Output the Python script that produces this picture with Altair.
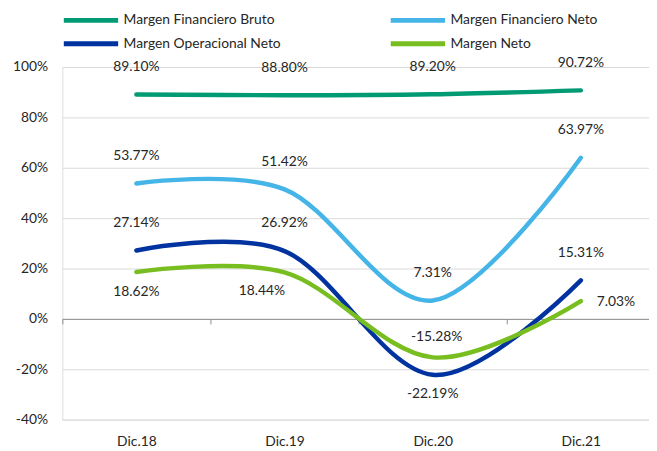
import altair as alt
import pandas as pd

categories = ["Dic.18", "Dic.19", "Dic.20", "Dic.21"]
series_names = [
    "Margen Financiero Bruto",
    "Margen Financiero Neto",
    "Margen Operacional Neto",
    "Margen Neto",
]
margen_fin_bruto = [89.10, 88.80, 89.20, 90.72]
margen_fin_neto = [53.77, 51.42, 7.31, 63.97]
margen_oper_neto = [27.14, 26.92, -22.19, 15.31]
margen_neto = [18.62, 18.44, -15.28, 7.03]

# label placement for each point (style only)
place_fin_bruto = ["above", "above", "above", "above"]
place_fin_neto = ["above", "above", "above", "above"]
place_oper_neto = ["above", "above", "below", "above"]
place_neto = ["below", "below_left", "above_near", "right"]

colors = ["#009B74", "#45B5E8", "#0033A0", "#78BE21"]
# legend fills column by column: col1 = Bruto, Operacional; col2 = Fin. Neto, Neto
legend_order = [series_names[0], series_names[2], series_names[1], series_names[3]]
legend_colors = [colors[0], colors[2], colors[1], colors[3]]

rows = []
for name, vals, places in zip(
    series_names,
    [margen_fin_bruto, margen_fin_neto, margen_oper_neto, margen_neto],
    [place_fin_bruto, place_fin_neto, place_oper_neto, place_neto],
):
    for i, (c, v, p) in enumerate(zip(categories, vals, places)):
        rows.append({"cat": c, "series": name, "value": v, "place": p, "order": i})
df = pd.DataFrame(rows)

W, H = 594, 357
zero_offset = -H * 40 / 140

x_enc = alt.X(
    "cat:N",
    sort=categories,
    title=None,
    scale=alt.Scale(type="band", paddingInner=0, paddingOuter=0, range=[0, 600]),
    axis=alt.Axis(
        orient="bottom",
        offset=zero_offset,
        domain=True,
        domainColor="#8C8C8C",
        domainWidth=1,
        ticks=True,
        tickBand="extent",
        tickSize=5,
        tickColor="#8C8C8C",
        labelPadding=112,
        labelAngle=0,
        labelFont="Lato",
        labelFontSize=14,
        labelColor="#262626",
        grid=False,
    ),
)
y_enc = alt.Y(
    "value:Q",
    title=None,
    scale=alt.Scale(domain=[-40, 100], nice=False, zero=False),
    axis=alt.Axis(
        values=[-40, -20, 0, 20, 40, 60, 80, 100],
        labelExpr="datum.value + '%'",
        grid=True,
        gridColor="#D9D9D9",
        gridWidth=1,
        domain=False,
        ticks=False,
        tickSize=0,
        labelPadding=15,
        labelFont="Lato",
        labelFontSize=14,
        labelColor="#262626",
    ),
)

base = alt.Chart(df)

lines = base.mark_line(
    interpolate="cardinal", strokeWidth=4.5, strokeCap="round"
).encode(
    x=x_enc,
    y=y_enc,
    order="order:Q",
    color=alt.Color(
        "series:N",
        scale=alt.Scale(domain=legend_order, range=legend_colors),
        legend=alt.Legend(
            title=None,
            orient="none",
            legendX=44,
            legendY=-55,
            columns=2,
            columnPadding=100,
            rowPadding=3,
            symbolType="M-10,0H1",
            symbolSize=100,
            symbolStrokeWidth=5,
            labelFont="Lato",
            labelFontSize=14,
            labelColor="#262626",
            labelOffset=3,
            padding=0,
        ),
    ),
)

def labels(place, **kw):
    return base.transform_filter(alt.datum.place == place).transform_calculate(
        label="replace(format(datum.value, '.2f'), '\u2212', '-') + '%'"
    ).mark_text(
        font="Lato", fontSize=14, color="#262626", **kw
    ).encode(
        x=alt.X("cat:N", sort=categories),
        y="value:Q",
        text=alt.Text("label:N"),
    )

text_layers = [
    labels("above", dy=-28),
    labels("below", dy=20),
    labels("below_left", dy=19, dx=-23),
    labels("above_near", dy=-21, dx=4),
    labels("right", align="left", dx=16, dy=1),
]

chart = alt.layer(lines, *text_layers).properties(
    width=W,
    height=H,
    padding={"left": 55, "top": 57, "right": 0, "bottom": 29},
    autosize=alt.AutoSizeParams(type="none"),
).configure_view(stroke=None).configure(font="Lato")

chart.save("out.html", embed_options={"renderer": "svg", "actions": False})
